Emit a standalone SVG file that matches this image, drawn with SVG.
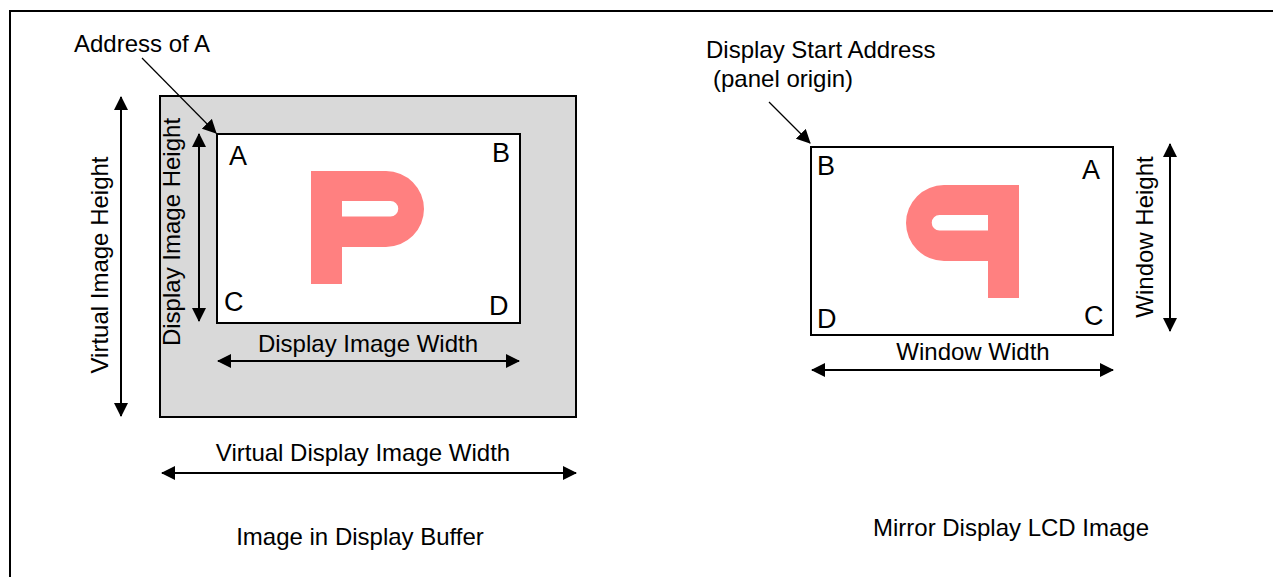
<svg xmlns="http://www.w3.org/2000/svg" width="1273" height="577" viewBox="0 0 1273 577">
<style>
text{font-family:"Liberation Sans",Arial,sans-serif;fill:#000}
.lbl{font-size:24px}
.ltr{font-size:27px}
.box{stroke:#000;stroke-width:2}
.dim{stroke:#000;stroke-width:2;fill:none;marker-start:url(#ah);marker-end:url(#ah)}
.ptr{stroke:#000;stroke-width:1.2;fill:none;marker-end:url(#ah)}
.p{fill:#FF8080;fill-rule:evenodd}
</style>
<defs>
<marker id="ah" viewBox="0 0 14 14" refX="13" refY="7" markerWidth="14" markerHeight="14" markerUnits="userSpaceOnUse" orient="auto-start-reverse">
<path d="M0,0 L14,7 L0,14 Z" fill="#000"/>
</marker>
<path id="pshape" class="p" d="M311,171 H386 A38,38 0 0 1 386,247 H342 V284 H311 Z M342,201 V216.5 H390.5 A7.75,7.75 0 0 0 390.5,201 Z"/>
</defs>
<rect width="1273" height="577" fill="#fff"/>
<path d="M10,577 V11 H1273" fill="none" stroke="#000" stroke-width="2"/>

<g id="buffer">
<rect class="box" x="160" y="96" width="416" height="321" fill="#D9D9D9"/>
<rect class="box" x="217" y="134" width="303" height="189" fill="#fff"/>
<use href="#pshape"/>
<text class="ltr" x="229" y="165">A</text>
<text class="ltr" x="492" y="162">B</text>
<text class="ltr" x="224" y="311">C</text>
<text class="ltr" x="489" y="315">D</text>
</g>

<g id="window">
<rect class="box" x="811" y="147" width="302" height="188" fill="#fff"/>
<use href="#pshape" transform="translate(1330,14) scale(-1,1)"/>
<text class="ltr" x="817" y="175">B</text>
<text class="ltr" x="1082" y="179">A</text>
<text class="ltr" x="817" y="328">D</text>
<text class="ltr" x="1084" y="325">C</text>
</g>

<g id="labels">
<text class="lbl" x="74" y="52">Address of A</text>
<text class="lbl" x="706" y="58">Display Start Address</text>
<text class="lbl" x="713" y="87">(panel origin)</text>
<text class="lbl" text-anchor="middle" x="368" y="352">Display Image Width</text>
<text class="lbl" text-anchor="middle" x="363" y="461">Virtual Display Image Width</text>
<text class="lbl" text-anchor="middle" x="360" y="545">Image in Display Buffer</text>
<text class="lbl" text-anchor="middle" x="973" y="360">Window Width</text>
<text class="lbl" text-anchor="middle" x="1011" y="536">Mirror Display LCD Image</text>
<text class="lbl" text-anchor="middle" transform="translate(108,265) rotate(-90)">Virtual Image Height</text>
<text class="lbl" text-anchor="middle" transform="translate(180,232) rotate(-90)">Display Image Height</text>
<text class="lbl" text-anchor="middle" transform="translate(1153,237) rotate(-90)">Window Height</text>
</g>

<g id="connectors">
<line class="ptr" x1="142" y1="58" x2="216" y2="133"/>
<line class="ptr" x1="769" y1="102" x2="810" y2="143"/>
<line class="dim" x1="121" y1="97" x2="121" y2="416"/>
<line class="dim" x1="199" y1="134" x2="199" y2="321"/>
<line class="dim" x1="218" y1="361" x2="519" y2="361"/>
<line class="dim" x1="162" y1="473" x2="576" y2="473"/>
<line class="dim" x1="812" y1="370" x2="1113" y2="370"/>
<line class="dim" x1="1170" y1="144" x2="1170" y2="331"/>
</g>
</svg>
